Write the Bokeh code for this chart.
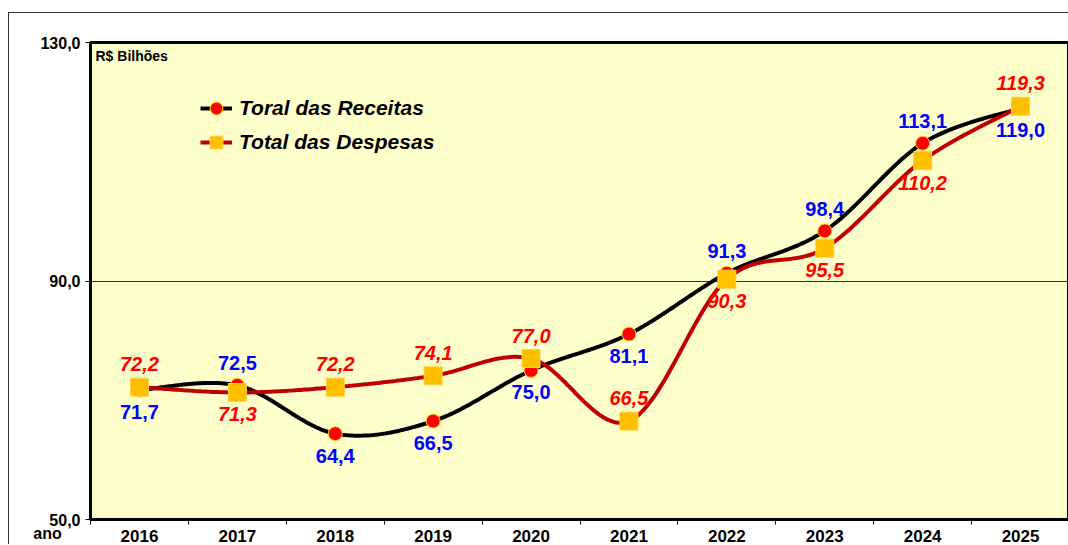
import numpy as np
from bokeh.plotting import figure
from bokeh.models import ColumnDataSource, FixedTicker, Label, Legend
from bokeh.core.properties import value
from bokeh.embed import file_html
from bokeh.resources import INLINE

# ---- data ----
years = ["2016", "2017", "2018", "2019", "2020", "2021", "2022", "2023", "2024", "2025"]
receitas = [71.7, 72.5, 64.4, 66.5, 75.0, 81.1, 91.3, 98.4, 113.1, 119.0]
despesas = [72.2, 71.3, 72.2, 74.1, 77.0, 66.5, 90.3, 95.5, 110.2, 119.3]
y_ticks = [50, 90, 130]
y_tick_labels = ["50,0", "90,0", "130,0"]
# label placement: +1 above the point, -1 below
receitas_place = [-1, 1, -1, -1, -1, -1, 1, 1, 1, -1]
despesas_place = [1, -1, 1, 1, 1, 1, -1, -1, -1, 1]

FONT = "Liberation Sans"

def fmt(v):
    return f"{v:.1f}".replace(".", ",")

def smooth(xs, ys, n=40):
    xs = np.asarray(xs, float); ys = np.asarray(ys, float)
    P = np.column_stack([xs, ys])
    P = np.vstack([P[0], P, P[-1]])
    out = []
    for i in range(1, len(P) - 2):
        p0, p1, p2, p3 = P[i - 1], P[i], P[i + 1], P[i + 2]
        c1 = p1 + (p2 - p0) / 6.0
        c2 = p2 - (p3 - p1) / 6.0
        t = np.linspace(0, 1, n)[:, None]
        seg = ((1 - t) ** 3) * p1 + 3 * ((1 - t) ** 2) * t * c1 + 3 * (1 - t) * t ** 2 * c2 + t ** 3 * p2
        out.append(seg if i == 1 else seg[1:])
    pts = np.vstack(out)
    return pts[:, 0], pts[:, 1]

xpos = [i + 0.5 for i in range(len(years))]

p = figure(width=1060, height=532, x_range=(0, len(years)), y_range=(50, 130),
           output_backend="svg", toolbar_location=None,
           min_border_left=81, min_border_top=29, min_border_right=0, min_border_bottom=26)
p.styles = {"margin-left": "8px", "margin-top": "12px",
            "border-left": "1px solid #333333", "border-top": "1px solid #333333"}
p.background_fill_color = "#FFFFCC"
p.border_fill_color = "white"
p.outline_line_color = "black"
p.outline_line_width = 3

# axes
p.yaxis.ticker = FixedTicker(ticks=y_ticks, minor_ticks=[])
p.yaxis.major_label_overrides = {t: l for t, l in zip(y_ticks, y_tick_labels)}
p.yaxis.major_label_text_font = FONT
p.yaxis.major_label_text_font_style = "bold"
p.yaxis.major_label_text_font_size = "16px"
p.yaxis.major_label_text_color = "black"
p.yaxis.major_tick_out = 5
p.yaxis.major_tick_in = 0
p.yaxis.major_label_standoff = 5
p.yaxis.axis_line_width = 3
p.yaxis.axis_line_color = "black"

p.xaxis.ticker = FixedTicker(ticks=xpos, minor_ticks=list(range(len(years) + 1)))
p.xaxis.major_label_overrides = {x: y for x, y in zip(xpos, years)}
p.xaxis.major_label_text_font = FONT
p.xaxis.major_label_text_font_style = "bold"
p.xaxis.major_label_text_font_size = "17px"
p.xaxis.major_label_text_color = "black"
p.xaxis.major_tick_out = 0
p.xaxis.major_tick_in = 0
p.xaxis.minor_tick_out = 5
p.xaxis.minor_tick_in = 0
p.xaxis.minor_tick_line_color = "black"
p.xaxis.major_label_standoff = 5
p.xaxis.axis_line_width = 3
p.xaxis.axis_line_color = "black"

p.xgrid.grid_line_color = None
p.ygrid.ticker = FixedTicker(ticks=[90])
p.ygrid.grid_line_color = "black"
p.ygrid.grid_line_width = 1
p.ygrid.grid_line_alpha = 0.8

# series
rx, ry = smooth(xpos, receitas)
dx, dy = smooth(xpos, despesas)
l1 = p.line(rx, ry, line_color="black", line_width=4)
c1 = p.scatter(xpos, receitas, marker="circle", size=14, fill_color="#FF0000",
               line_color="#FFE000", line_width=1)
l2 = p.line(dx, dy, line_color="#C00000", line_width=4)
c2 = p.scatter(xpos, despesas, marker="square", size=18, fill_color="#FFC000",
               line_color="#FFD040", line_width=1)

# data labels
rsrc = ColumnDataSource(dict(x=xpos, y=receitas, t=[fmt(v) for v in receitas],
                             off=[-22 if s > 0 else 22 for s in receitas_place]))
dsrc = ColumnDataSource(dict(x=xpos, y=despesas, t=[fmt(v) for v in despesas],
                             off=[-23 if s > 0 else 22 for s in despesas_place]))
p.text(x="x", y="y", text="t", y_offset="off", source=rsrc, text_align="center",
       text_baseline="middle", text_font=value(FONT), text_font_size="20px",
       text_font_style="bold", text_color="#0000FF")
p.text(x="x", y="y", text="t", y_offset="off", source=dsrc, text_align="center",
       text_baseline="middle", text_font=value(FONT), text_font_size="20px",
       text_font_style="bold italic", text_color="#FF0000")

legend = Legend(items=[("Toral das Receitas", [l1, c1]), ("Total das Despesas", [l2, c2])],
                location=(110, 360))
legend.background_fill_alpha = 0
legend.border_line_color = None
legend.padding = 0
legend.margin = 0
legend.spacing = 0
legend.glyph_width = 32
legend.glyph_height = 34
legend.label_height = 34
legend.label_standoff = 7
legend.label_text_font = FONT
legend.label_text_font_size = "21px"
legend.label_text_font_style = "bold italic"
legend.label_text_color = "black"
p.add_layout(legend, "center")

p.add_layout(Label(x=0, y=130, x_offset=5, y_offset=-5, text="R$ Bilhões",
                   text_font=FONT, text_font_size="14px", text_font_style="bold",
                   text_baseline="top", text_color="black"))
p.add_layout(Label(x=38, y=-5, x_units="screen", y_units="screen", text="ano",
                   text_font=FONT, text_font_size="16px", text_font_style="bold",
                   text_align="center", text_baseline="top", text_color="black"), "left")

open("out.html", "w").write(file_html(p, INLINE))
